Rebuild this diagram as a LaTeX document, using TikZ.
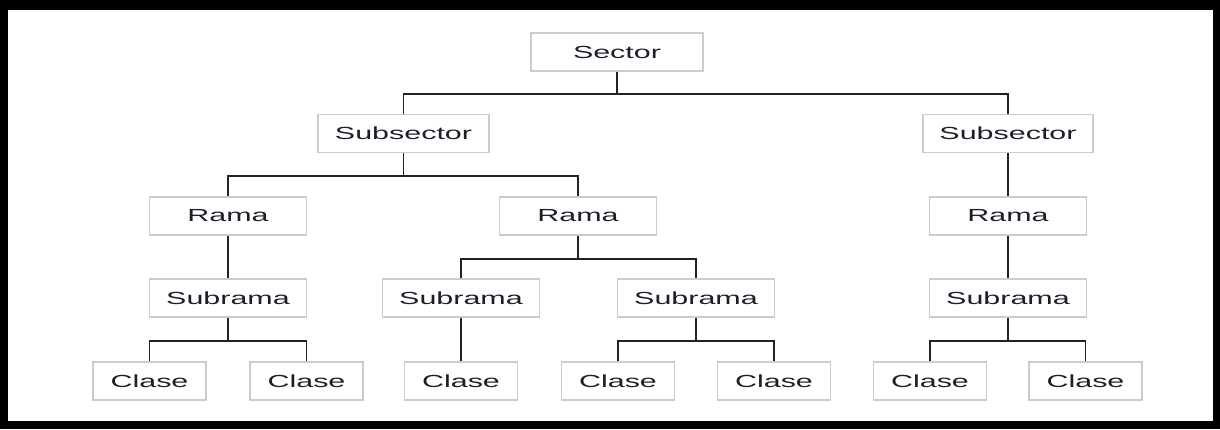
\documentclass[tikz,border=0pt]{standalone}
\usepackage{fontspec}
\usepackage{graphicx}
\setmainfont{Liberation Sans}
\definecolor{boxline}{HTML}{CCCCCC}
\definecolor{conn}{HTML}{222222}
\definecolor{txt}{HTML}{1E1E2A}
\newcommand{\lbl}[1]{\scalebox{1.74}[1]{\fontsize{17.5}{20}\selectfont #1}}
\begin{document}
\begin{tikzpicture}[x=1pt,y=-1pt,
  box/.style={draw=boxline,line width=1.4pt,fill=white,inner sep=0pt,minimum height=38pt,text=txt},
  wA/.style={box,minimum width=172pt},
  wR/.style={box,minimum width=157pt},
  wC/.style={box,minimum width=113pt},
  link/.style={draw=conn,line width=1.6pt}]
\fill[black] (0,0) rectangle (1220,429);
\fill[white] (8,9.5) rectangle (1213,421);
\useasboundingbox (0,0) rectangle (1220,429);
% nodes
\node[wA] (sector) at (617,52) {\lbl{Sector}};
\node[wA,minimum width=171pt] (ssL) at (403.5,133.5) {\lbl{Subsector}};
\node[wA,minimum width=170pt] (ssR) at (1008,133.5) {\lbl{Subsector}};
\node[wR] (ramaL) at (228,216) {\lbl{Rama}};
\node[wR] (ramaM) at (578,216) {\lbl{Rama}};
\node[wR] (ramaR) at (1008,216) {\lbl{Rama}};
\node[wR] (subL) at (228,298) {\lbl{Subrama}};
\node[wR] (subM1) at (461,298) {\lbl{Subrama}};
\node[wR] (subM2) at (696,298) {\lbl{Subrama}};
\node[wR] (subR) at (1008,298) {\lbl{Subrama}};
\node[wC] (c1) at (149.5,381) {\lbl{Clase}};
\node[wC] (c2) at (306.5,381) {\lbl{Clase}};
\node[wC] (c3) at (461,381) {\lbl{Clase}};
\node[wC] (c4) at (618,381) {\lbl{Clase}};
\node[wC] (c5) at (774,381) {\lbl{Clase}};
\node[wC] (c6) at (930,381) {\lbl{Clase}};
\node[wC] (c7) at (1085.5,381) {\lbl{Clase}};
% connectors
\draw[link] (sector.south) -- ++(0,22) -| (ssL.north);
\draw[link] (sector.south) -- ++(0,22) -| (ssR.north);
\draw[link] (ssL.south) -- ++(0,23) -| (ramaL.north);
\draw[link] (ssL.south) -- ++(0,23) -| (ramaM.north);
\draw[link] (ssR.south) -- (ramaR.north);
\draw[link] (ramaL.south) -- (subL.north);
\draw[link] (ramaM.south) -- ++(0,23) -| (subM1.north);
\draw[link] (ramaM.south) -- ++(0,23) -| (subM2.north);
\draw[link] (ramaR.south) -- (subR.north);
\draw[link] (subL.south) -- ++(0,23) -| (c1.north);
\draw[link] (subL.south) -- ++(0,23) -| (c2.north);
\draw[link] (subM1.south) -- (c3.north);
\draw[link] (subM2.south) -- ++(0,23) -| (c4.north);
\draw[link] (subM2.south) -- ++(0,23) -| (c5.north);
\draw[link] (subR.south) -- ++(0,23) -| (c6.north);
\draw[link] (subR.south) -- ++(0,23) -| (c7.north);
\end{tikzpicture}
\end{document}
